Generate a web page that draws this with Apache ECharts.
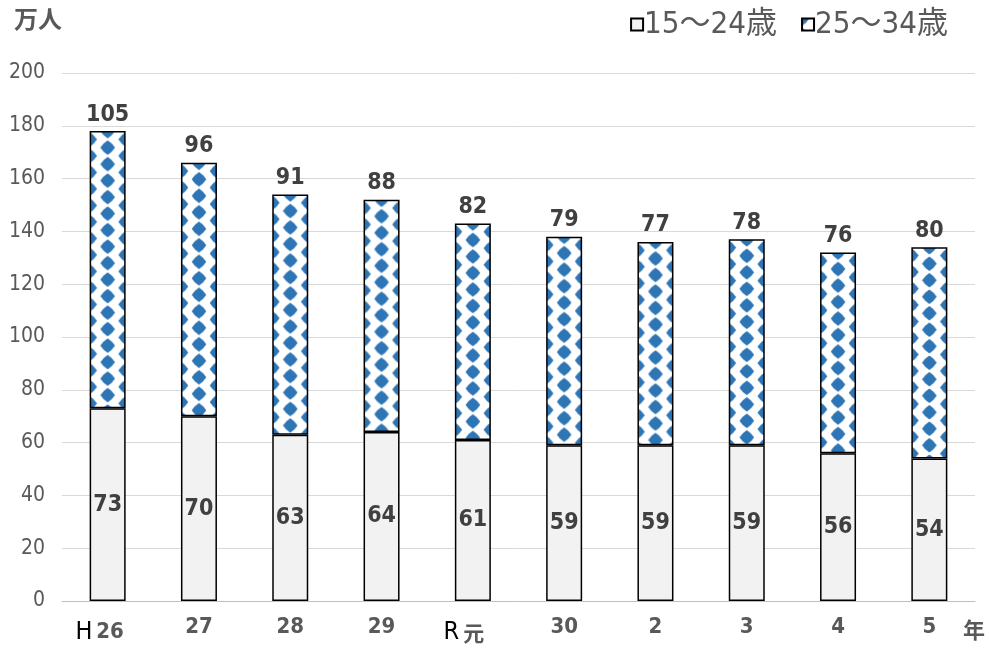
<!DOCTYPE html>
<html>
<head>
<meta charset="utf-8">
<script src="https://cdn.jsdelivr.net/npm/echarts@6/dist/echarts.min.js"></script>
<style>
  html, body { margin: 0; padding: 0; background: #fff; }
  #chart { width: 989px; height: 648px; }
</style>
</head>
<body>
<div id="chart"></div>
<script>
// Year labels (Heisei / Reiwa)
const categories = ['H26', '27', '28', '29', 'R元', '30', '2', '3', '4', '5'];
// Population in units of 10,000 people
const age15to24 = [73, 70, 63, 64, 61, 59, 59, 59, 56, 54];
const age25to34 = [105, 96, 91, 88, 82, 79, 77, 78, 76, 80];
const seriesNames = ['15～24歳', '25～34歳'];
const yTicks = [0, 20, 40, 60, 80, 100, 120, 140, 160, 180, 200];

const NUM_FONT = '"Liberation Sans Narrow", "DejaVu Sans Condensed", "Noto Sans CJK JP", sans-serif';
const JP_FONT = '"Noto Sans CJK JP", sans-serif';
const BAR_W = 36;

// Diamond tile: one column on the tile edges, one in the middle, rows staggered
const TILE_W = 36, TILE_H = 16.5;
function diamondTile() {
  const c = document.createElement('canvas');
  c.width = TILE_W * 2; c.height = TILE_H * 2;
  const g = c.getContext('2d');
  g.fillStyle = '#ffffff';
  g.fillRect(0, 0, c.width, c.height);
  g.fillStyle = '#2E75B6';
  const r = 7.3, k = 0.62;
  for (let row = 0; row <= 4; row++) {
    for (let col = 0; col <= 4; col++) {
      if ((row + col) % 2 !== 0) continue;
      const cx = col * TILE_W / 2;
      const cy = row * TILE_H / 2;
      g.beginPath();
      g.moveTo(cx, cy - r);
      g.quadraticCurveTo(cx + r * k, cy - r * k, cx + r, cy);
      g.quadraticCurveTo(cx + r * k, cy + r * k, cx, cy + r);
      g.quadraticCurveTo(cx - r * k, cy + r * k, cx - r, cy);
      g.quadraticCurveTo(cx - r * k, cy - r * k, cx, cy - r);
      g.closePath();
      g.fill();
    }
  }
  return c;
}
const tile = diamondTile();

const chart = echarts.init(document.getElementById('chart'), null, { renderer: 'canvas' });

function buildOption(upperData) {
  return {
    animation: false,
    backgroundColor: '#ffffff',
    grid: { left: 62, right: 14, top: 73, bottom: 47, containLabel: false },
    legend: {
      right: 36,
      top: 4,
      icon: 'rect',
      itemWidth: 12,
      itemHeight: 12,
      itemGap: 24,
      data: seriesNames,
      textStyle: { fontFamily: NUM_FONT, fontSize: 31, color: '#595959', padding: [0, 0, 0, -4] }
    },
    graphic: [
      { type: 'text', left: 14, top: 7, style: { text: '万人', font: 'bold 24px ' + JP_FONT, fill: '#595959' } },
      { type: 'text', left: 963, top: 619, style: { text: '年', font: 'bold 22px ' + JP_FONT, fill: '#595959' } }
    ],
    xAxis: {
      type: 'category',
      data: categories,
      axisTick: { show: false },
      axisLine: { lineStyle: { color: '#bfbfbf', width: 1 } },
      axisLabel: {
        interval: 0,
        margin: 15,
        fontFamily: NUM_FONT,
        fontSize: 22,
        fontWeight: 'bold',
        color: '#595959',
        formatter: function (v) {
          const era = v.charAt(0);
          if (era === 'H') return '{era|H}{num|' + v.slice(1) + '}';
          if (era === 'R') return '{era|R}{jp|' + v.slice(1) + '}';
          return v;
        },
        rich: {
          era: { fontFamily: NUM_FONT, fontSize: 25, fontWeight: 'normal', color: '#000000', padding: [4, 4, 0, 0] },
          num: { fontFamily: NUM_FONT, fontSize: 22, fontWeight: 'bold', color: '#595959', padding: [4, 16, 0, 0] },
          jp: { fontFamily: JP_FONT, fontSize: 21, fontWeight: 'bold', color: '#595959', padding: [6, 18, 0, 0] }
        }
      }
    },
    yAxis: {
      type: 'value',
      min: 0,
      max: 200,
      interval: 20,
      axisLine: { show: false },
      axisTick: { show: false },
      splitLine: { lineStyle: { color: '#d9d9d9', width: 1 } },
      axisLabel: {
        margin: 17,
        fontFamily: NUM_FONT,
        fontSize: 21,
        color: '#595959',
        formatter: function (v) { return yTicks.indexOf(v) >= 0 ? String(v) : ''; }
      }
    },
    series: [
      {
        name: seriesNames[0],
        type: 'bar',
        stack: 'total',
        data: age15to24,
        barWidth: BAR_W,
        itemStyle: { color: '#f2f2f2', borderColor: '#000000', borderWidth: 1.5 },
        label: {
          show: true,
          position: 'inside',
          fontFamily: NUM_FONT,
          fontSize: 23,
          fontWeight: 'bold',
          color: '#404040'
        }
      },
      {
        name: seriesNames[1],
        type: 'bar',
        stack: 'total',
        data: upperData,
        barWidth: BAR_W,
        itemStyle: {
          color: { image: tile, repeat: 'repeat' },
          borderColor: '#000000',
          borderWidth: 1.5
        },
        label: {
          show: true,
          position: 'top',
          distance: 5,
          fontFamily: NUM_FONT,
          fontSize: 23,
          fontWeight: 'bold',
          color: '#404040'
        }
      }
    ]
  };
}

chart.setOption(buildOption(age25to34));

// Anchor the diamond fill to each bar's left edge and top so the columns sit on the borders
const upper = age25to34.map(function (v, i) {
  const cx = chart.convertToPixel({ xAxisIndex: 0 }, i);
  const top = chart.convertToPixel({ yAxisIndex: 0 }, age15to24[i] + v);
  return {
    value: v,
    itemStyle: {
      color: { image: tile, repeat: 'repeat', x: cx - BAR_W / 2, y: top - TILE_H / 2 }
    }
  };
});
chart.setOption(buildOption(upper));
</script>
</body>
</html>
